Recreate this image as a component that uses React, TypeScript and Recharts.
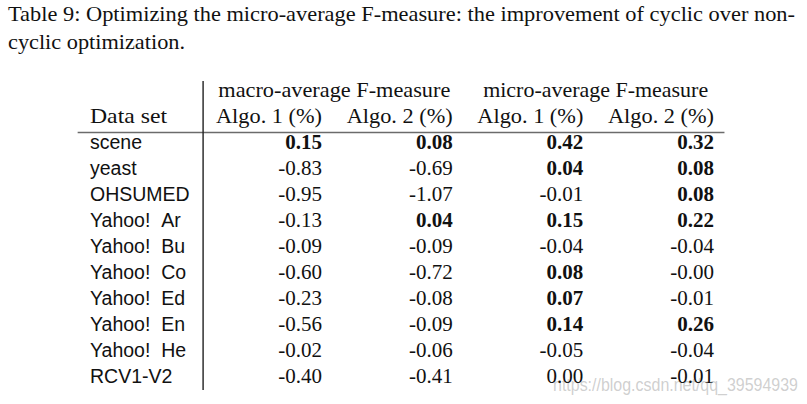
import React from 'react';
import { ScatterChart, Scatter, XAxis, YAxis, ReferenceLine, Customized } from 'recharts';

const captionLines = [
  'Table 9: Optimizing the micro-average F-measure: the improvement of cyclic over non-',
  'cyclic optimization.',
];
const groupHeaders = ['macro-average F-measure', 'micro-average F-measure'];
const columnHeaders = ['Algo. 1 (%)', 'Algo. 2 (%)', 'Algo. 1 (%)', 'Algo. 2 (%)'];
const datasets = [
  'scene',
  'yeast',
  'OHSUMED',
  'Yahoo!\u00a0\u00a0Ar',
  'Yahoo!\u00a0\u00a0Bu',
  'Yahoo!\u00a0\u00a0Co',
  'Yahoo!\u00a0\u00a0Ed',
  'Yahoo!\u00a0\u00a0En',
  'Yahoo!\u00a0\u00a0He',
  'RCV1-V2',
];
const macroAlgo1 = [0.15, -0.83, -0.95, -0.13, -0.09, -0.6, -0.23, -0.56, -0.02, -0.4];
const macroAlgo2 = [0.08, -0.69, -1.07, 0.04, -0.09, -0.72, -0.08, -0.09, -0.06, -0.41];
const microAlgo1 = [0.42, 0.04, -0.01, 0.15, -0.04, 0.08, 0.07, 0.14, -0.05, 0.0];
const microAlgo2 = [0.32, 0.08, 0.08, 0.22, -0.04, -0, -0.01, 0.26, -0.04, -0.01];

const SERIF = '"Liberation Serif", "DejaVu Serif", serif';
const SANS = '"Liberation Sans", Arial, sans-serif';
const INK = '#111';

const fmt = (v: number) => (v < 0 || Object.is(v, -0) ? '-' : '') + Math.abs(v).toFixed(2);

// one point per table cell: c = column index, r = row index
const cells = [macroAlgo1, macroAlgo2, microAlgo1, microAlgo2].flatMap((col, c) =>
  col.map((v, r) => ({ c, r, text: fmt(v), bold: v > 0 }))
);
const headerCells = columnHeaders.map((text, c) => ({ c, r: -1, text }));
const groupCells = groupHeaders.map((text, i) => ({ c: i * 2 + 0.5, r: -2, text }));

const ValueCell = (props: any) => {
  const { cx, cy, payload } = props;
  return (
    <text
      x={cx}
      y={cy}
      textAnchor="end"
      fontFamily={SERIF}
      fontSize={21}
      fontWeight={payload.bold ? 700 : 400}
      fill={INK}
    >
      {payload.text}
    </text>
  );
};

const HeaderCell = (props: any) => {
  const { cx, cy, payload } = props;
  return (
    <text
      x={cx}
      y={cy}
      textAnchor="end"
      fontFamily={SERIF}
      fontSize={21}
      textLength={106}
      lengthAdjust="spacingAndGlyphs"
      fill={INK}
    >
      {payload.text}
    </text>
  );
};

const GroupCell = (props: any) => {
  const { cx, cy, payload } = props;
  return (
    <text
      x={cx - 53}
      y={cy}
      textAnchor="middle"
      fontFamily={SERIF}
      fontSize={21}
      textLength={payload.c < 1 ? 232 : 225}
      lengthAdjust="spacingAndGlyphs"
      fill={INK}
    >
      {payload.text}
    </text>
  );
};

const NameTick = (props: any) => {
  const { y, payload } = props;
  const r = payload.value;
  if (r < 0) {
    return (
      <text x={90} y={y} fontFamily={SERIF} fontSize={21} textLength={77} lengthAdjust="spacingAndGlyphs" fill={INK}>
        Data set
      </text>
    );
  }
  return (
    <text x={90} y={y} fontFamily={SANS} fontSize={19.5} fill={INK}>
      {datasets[r]}
    </text>
  );
};

const Caption = () => (
  <g>
    <text x={8} y={21} fontFamily={SERIF} fontSize={21} textLength={787} lengthAdjust="spacingAndGlyphs" fill={INK}>
      {captionLines[0]}
    </text>
    <text x={8} y={49} fontFamily={SERIF} fontSize={21} textLength={177} lengthAdjust="spacingAndGlyphs" fill={INK}>
      {captionLines[1]}
    </text>
    <text x={553} y={391} fontFamily={SANS} fontSize={18.5} fill="#b5b5b5" fillOpacity={0.65} textLength={245} lengthAdjust="spacingAndGlyphs">
      https://blog.csdn.net/qq_39594939
    </text>
  </g>
);

export default function App() {
  const rowTicks = [-1, 0, 1, 2, 3, 4, 5, 6, 7, 8, 9];
  return (
    <div style={{ width: 807, height: 404, background: '#fff' }}>
      <style>{'body{margin:0}'}</style>
      <ScatterChart width={807} height={404} margin={{ top: 97, right: 93, bottom: 21, left: 0 }}>
        <XAxis type="number" dataKey="c" domain={[0, 3]} hide />
        <YAxis
          type="number"
          dataKey="r"
          domain={[-2, 9]}
          reversed
          width={322}
          ticks={rowTicks}
          interval={0}
          axisLine={false}
          tickLine={false}
          tick={<NameTick />}
        />
        <ReferenceLine
          segment={[{ x: -1.87, y: -0.63 }, { x: 3.08, y: -0.63 }]}
          stroke="#6b6b6b"
          strokeWidth={1.5}
          ifOverflow="visible"
        />
        <ReferenceLine
          segment={[{ x: -0.91, y: -2.62 }, { x: -0.91, y: 9.27 }]}
          stroke="#222"
          strokeWidth={1.4}
          ifOverflow="visible"
        />
        <Scatter data={groupCells} shape={<GroupCell />} isAnimationActive={false} />
        <Scatter data={headerCells} shape={<HeaderCell />} isAnimationActive={false} />
        <Scatter data={cells} shape={<ValueCell />} isAnimationActive={false} />
        <Customized component={<Caption />} />
      </ScatterChart>
    </div>
  );
}
